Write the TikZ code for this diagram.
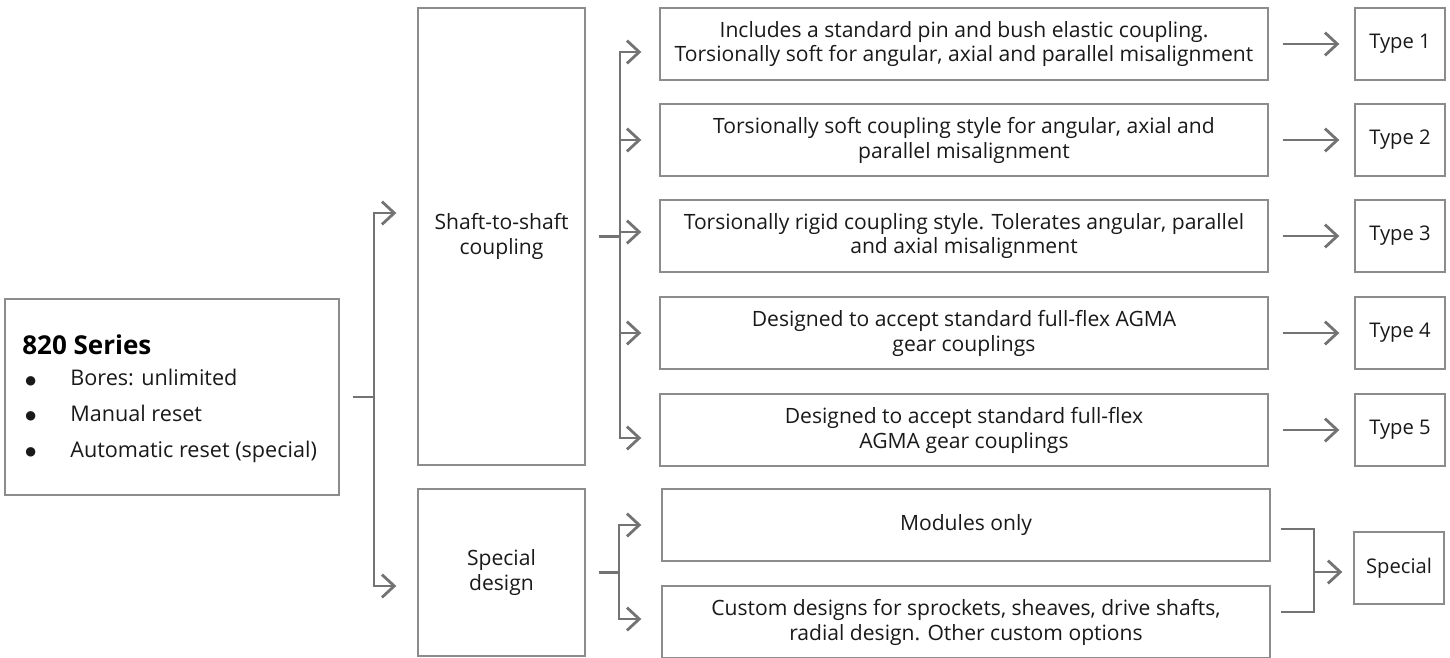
\documentclass[tikz,border=0pt]{standalone}
\usepackage{fontspec}
\setmainfont{Open Sans}
\newfontfamily\symfont{DejaVu Sans}
\usetikzlibrary{arrows.meta,positioning}
\definecolor{boxgray}{RGB}{140,140,140}
\definecolor{linkgray}{RGB}{115,115,115}
\newcommand{\dotitem}{\makebox[0.9cm][l]{\raisebox{1pt}{\symfont\fontsize{7}{0}\selectfont ●}}}
\tikzset{>={Straight Barb[length=7pt,width=13pt]}, % open arrow heads
box/.style={draw=boxgray, line width=0.8pt, inner sep=0pt, align=center, text=black!90, font=\fontsize{12}{14.2}\selectfont}, % every rectangle
wh/.style 2 args={minimum width=#1*0.02cm, minimum height=#2*0.02cm}, % size in pixels
link/.style={draw=linkgray, line width=1.6pt}, % connectors
}

\begin{document}
\begin{tikzpicture}[x=0.02cm, y=-0.02cm]
\useasboundingbox (0,0) rectangle (1450,657);
% left column
\node[box, wh={334}{196}] (series) at (172,397) {};
\node[anchor=west, inner sep=0pt, font=\bfseries\fontsize{14.8}{17}\selectfont] (title) at (22,345) {820 Series};
\node[anchor=west, inner sep=0pt, align=left, text=black!90, font=\fontsize{12.3}{20.4}\selectfont] (bullets) at (25,416)
  {\dotitem Bores: unlimited\\
   \dotitem Manual reset\\
   \dotitem Automatic reset (special)};
% middle column
\node[box, wh={167}{457}] (shaft) at (501.5,236.5) {Shaft-to-shaft\\coupling};
\node[box, wh={167}{167}] (special) at (501.5,572.5) {Special\\design};
% descriptions
\node[box, wh={608}{72}] (d1) at (964,44) {Includes a standard pin and bush elastic coupling.\\Torsionally soft for angular, axial and parallel misalignment};
\node[box, wh={608}{72}] (d2) at (964,140) {Torsionally soft coupling style for angular, axial and\\parallel misalignment};
\node[box, wh={608}{72}] (d3) at (964,236) {Torsionally rigid coupling style. Tolerates angular, parallel\\and axial misalignment};
\node[box, wh={608}{72}] (d4) at (964,333) {Designed to accept standard full-flex AGMA\\gear couplings};
\node[box, wh={608}{72}] (d5) at (964,430) {Designed to accept standard full-flex\\AGMA gear couplings};
\node[box, wh={608}{72}] (mod) at (966,525) {Modules only};
\node[box, wh={608}{72}] (cust) at (966,622) {Custom designs for sprockets, sheaves, drive shafts,\\radial design. Other custom options};
% types
\foreach \i/\y in {1/44,2/140,3/236,4/333,5/430}
  \node[box, wh={90}{72}, font=\fontsize{11.5}{14.2}\selectfont] (t\i) at (1400,\y) {Type \i};
\node[box, wh={90}{72}, font=\fontsize{11.5}{14.2}\selectfont] (spec) at (1399,568) {Special};
% forks
\coordinate (f0) at (374,397);
\coordinate (f1) at (620,236.5);
\coordinate (f2) at (619,572.5);
\coordinate (m) at (1314,572);
% connectors
\draw[link] (series.east) ++(13,0) -- (f0);
\draw[link,->] (f0) |- ([xshift=-0.42cm,yshift=0.47cm]shaft.west);
\draw[link,->] (f0) |- ([xshift=-0.42cm,yshift=-0.27cm]special.west);
\draw[link] (shaft.east) ++(13,0) -- (f1);
\foreach \i/\s in {1/-0.16,2/0,3/0.08,4/0,5/-0.16}
  \draw[link,->] (f1) |- ([xshift=-0.36cm,yshift=\s cm]d\i.west);
\foreach \i in {1,...,5}
  \draw[link,->] ([xshift=0.28cm]d\i.east) -- ([xshift=-0.3cm]t\i.west);
\draw[link] (special.east) ++(13,0) -- (f2);
\draw[link,->] (f2) |- ([xshift=-0.4cm]mod.west);
\draw[link,->] (f2) |- ([xshift=-0.4cm,yshift=0.06cm]cust.west);
\draw[link] ([xshift=0.2cm,yshift=-0.08cm]mod.east) -| (m) |- ([xshift=0.2cm,yshift=0.2cm]cust.east);
\draw[link,->,shorten >=0.22cm] (m) -- (m -| spec.west);
\end{tikzpicture}
\end{document}
